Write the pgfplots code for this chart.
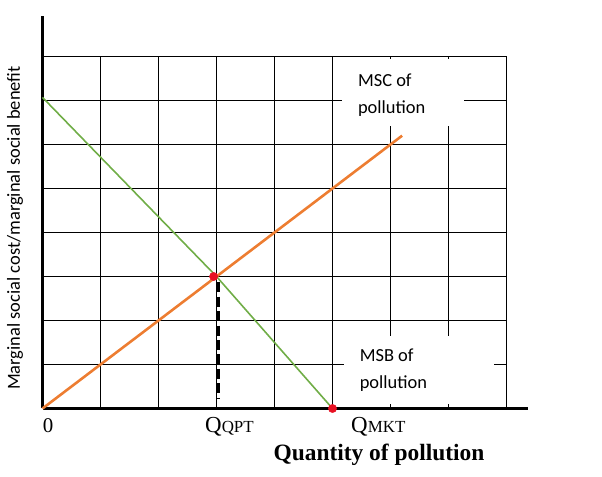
\documentclass[border=0pt]{standalone}
\usepackage{pgfplots}
\pgfplotsset{compat=1.18}
\usepackage{fontspec}
\setmainfont{Liberation Serif}
\newfontfamily\calibri{Carlito}
\definecolor{msc}{HTML}{ED7D31}
\definecolor{msb}{HTML}{70AD47}
\definecolor{dot}{HTML}{E81123}
\begin{document}
\begin{tikzpicture}
\path[use as bounding box] (0,0) rectangle (602bp,477bp);
\begin{axis}[
  at={(42.5bp,68.5bp)}, anchor=south west,
  scale only axis, width=485bp, height=392bp,
  xmin=0, xmax=8.362, ymin=0, ymax=8.909,
  axis x line=bottom, axis y line=left,
  axis line style={line width=3pt,-},
  xtick=\empty, ytick=\empty,
  clip=false,
]
% grid
\pgfplotsinvokeforeach{1,...,8}{
  \draw[line width=1.3bp] (axis cs:#1,0) -- (axis cs:#1,8);
  \draw[line width=1.3bp] (axis cs:0,#1) -- (axis cs:8,#1);
}
% white label boxes
\fill[white] (axis cs:5.17,6.43) rectangle (axis cs:7.26,7.95);
\fill[white] (axis cs:5.19,0.11) rectangle (axis cs:7.79,1.64);
\node[anchor=west, align=left, font=\calibri\fontsize{18.5}{27}\selectfont] at (axis cs:5.38,7.12) {MSC of\\pollution};
\node[anchor=west, align=left, font=\calibri\fontsize{18.5}{27}\selectfont] at (axis cs:5.41,0.87) {MSB of\\pollution};
% curves
\addplot[msb, line width=1.6pt] coordinates {(0,7.07) (3,3) (5,0)};
\addplot[msc, line width=2.6pt] coordinates {(0,0) (3,3) (6.2,6.2)};
\addplot[black, line width=3.4pt, dash pattern=on 10pt off 4.5pt] coordinates {(3.03,2.87) (3.03,0.22)};
\addplot[only marks, mark=*, mark size=4.2pt, color=dot] coordinates {(2.95,3) (5,0)};
\end{axis}
\node[font=\fontsize{21}{21}\selectfont, anchor=base] at (48bp,44bp) {0};
\node[font=\fontsize{23}{23}\selectfont, anchor=base west, inner sep=0pt] at (205bp,44bp) {Q{\fontsize{17}{17}\selectfont QPT}};
\node[font=\fontsize{23}{23}\selectfont, anchor=base west, inner sep=0pt] at (351bp,44bp) {Q{\fontsize{17}{17}\selectfont MKT}};
\node[font=\bfseries\fontsize{23.5}{24}\selectfont, anchor=base] at (379bp,17bp) {Quantity of pollution};
\node[font=\calibri\fontsize{18.5}{19}\selectfont, rotate=90] at (15bp,249bp) {Marginal social cost/marginal social benefit};
\end{tikzpicture}
\end{document}
